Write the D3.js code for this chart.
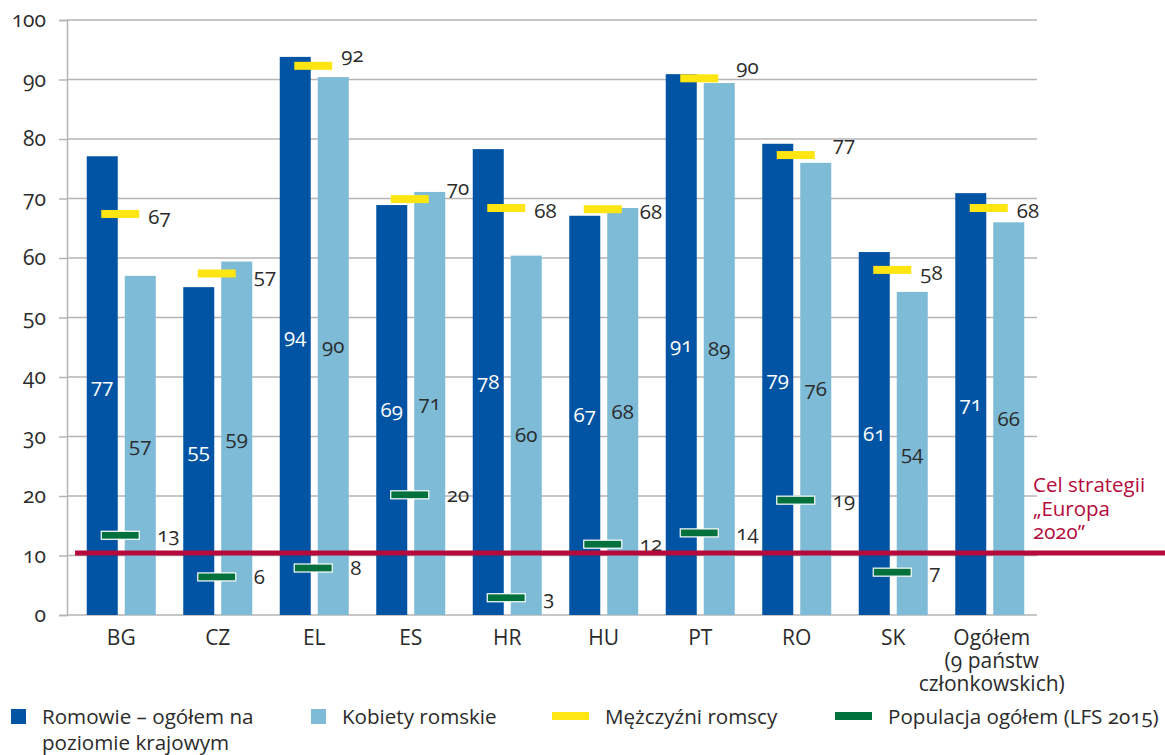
<!DOCTYPE html>
<html><head><meta charset="utf-8">
<script src="https://cdn.jsdelivr.net/npm/d3@7"></script>
<style>
body{margin:0;background:#fff;}
svg text{font-family:"Open Sans","Noto Sans",sans-serif;font-variant-numeric:oldstyle-nums;fill:#2b2b2b;}
</style></head>
<body><svg id="chart" width="1165" height="755"></svg>
<script>
const categories = ["BG","CZ","EL","ES","HR","HU","PT","RO","SK","Ogółem"];
const categoryLines = [["BG"],["CZ"],["EL"],["ES"],["HR"],["HU"],["PT"],["RO"],["SK"],["Ogółem","(9 państw","członkowskich)"]];
const romaAll    = [77.1, 55.1, 93.8, 68.9, 78.3, 67.1, 90.9, 79.2, 61.0, 70.9];
const romaWomen  = [57.0, 59.4, 90.4, 71.1, 60.4, 68.4, 89.4, 76.0, 54.3, 66.0];
const romaMen    = [67.4, 57.4, 92.3, 69.9, 68.4, 68.2, 90.2, 77.3, 58.0, 68.4];
const generalPop = [13.4, 6.4, 7.9, 20.2, 2.9, 11.9, 13.8, 19.3, 7.2];
const targetValue = 10.4;
const targetLabel = ["Cel strategii", "„Europa", "2020”"];
const yTicks = [0,10,20,30,40,50,60,70,80,90,100];
const seriesNames = ["Romowie – ogółem na|poziomie krajowym", "Kobiety romskie", "Mężczyźni romscy", "Populacja ogółem (LFS 2015)"];
const colors = {dark:"#0054a3", light:"#7dbbd7", yellow:"#ffe512", green:"#00703c", red:"#b40a3c", grid:"#b5b5b5"};

const svg = d3.select("#chart");
const y = d3.scaleLinear().domain([0,100]).range([615,20]);
const x = d3.scaleBand().domain(categories).range([73,1038]).paddingInner(0).paddingOuter(0);
const inner = d3.scaleBand().domain(["all","women"]).range([-34.5,34.5]).paddingInner(0.184);
const cx = c => x(c) + x.bandwidth()/2;
const fmt = v => String(Math.round(v));

// grid + axis
const yAxis = d3.axisLeft(y).tickValues(yTicks).tickSize(8).tickPadding(13).tickFormat(d3.format("d"));
const ag = svg.append("g").attr("transform","translate(67,0)").call(yAxis);
ag.select(".domain").attr("stroke",colors.grid).attr("stroke-width",1.5);
ag.selectAll(".tick line").attr("stroke",colors.grid).attr("stroke-width",1.5);
ag.selectAll(".tick text").attr("font-size",21).style("fill","#2b2b2b");
svg.append("g").selectAll("line").data(yTicks).join("line")
  .attr("x1",67).attr("x2",1037).attr("y1",d=>y(d)).attr("y2",d=>y(d))
  .attr("stroke",colors.grid).attr("stroke-width",1.5);

// bars
const g = svg.append("g");
g.selectAll("rect.dark").data(categories).join("rect").attr("class","dark")
  .attr("x",(c)=>cx(c)+inner("all")).attr("width",inner.bandwidth())
  .attr("y",(c,i)=>y(romaAll[i])).attr("height",(c,i)=>y(0)-y(romaAll[i])).attr("fill",colors.dark);
g.selectAll("rect.light").data(categories).join("rect").attr("class","light")
  .attr("x",(c)=>cx(c)+inner("women")).attr("width",inner.bandwidth())
  .attr("y",(c,i)=>y(romaWomen[i])).attr("height",(c,i)=>y(0)-y(romaWomen[i])).attr("fill",colors.light);

// bar labels
g.selectAll("text.dl").data(categories).join("text")
  .attr("x",c=>cx(c)+inner("all")+inner.bandwidth()/2).attr("y",(c,i)=>y(romaAll[i]/2)+7)
  .attr("text-anchor","middle").attr("font-size",20.5).style("fill","#ffffff").text((c,i)=>fmt(romaAll[i]));
g.selectAll("text.ll").data(categories).join("text")
  .attr("x",c=>cx(c)+inner("women")+inner.bandwidth()/2).attr("y",(c,i)=>y(romaWomen[i]/2)+7)
  .attr("text-anchor","middle").attr("font-size",20.5).text((c,i)=>fmt(romaWomen[i]));

// target line
svg.append("line").attr("x1",75).attr("x2",1165).attr("y1",y(targetValue)).attr("y2",y(targetValue))
  .attr("stroke",colors.red).attr("stroke-width",5);
svg.append("g").selectAll("text").data(targetLabel).join("text")
  .attr("x",1033).attr("y",(d,i)=>492+i*23.5).attr("font-size",20.5).style("fill",colors.red).text(d=>d);

// male markers
g.selectAll("rect.men").data(categories).join("rect")
  .attr("x",c=>cx(c)-20).attr("width",38).attr("y",(c,i)=>y(romaMen[i])-4).attr("height",8).attr("fill",colors.yellow);
g.selectAll("text.men").data(categories).join("text")
  .attr("x",(c,i)=>cx(c)+(romaWomen[i]>=romaMen[i]-1.5?36:27))
  .attr("y",(c,i)=>y(romaMen[i])+(romaMen[i]>=69.5?-4:10))
  .attr("font-size",20.5).text((c,i)=>fmt(romaMen[i]));

// general population markers
g.selectAll("rect.pop").data(generalPop).join("rect")
  .attr("x",(v,i)=>cx(categories[i])-20).attr("width",38).attr("y",v=>y(v)-4).attr("height",8)
  .attr("fill",colors.green).attr("stroke","#ffffff").attr("stroke-width",1.2);
g.selectAll("text.pop").data(generalPop).join("text")
  .attr("x",(v,i)=>cx(categories[i])+36).attr("y",v=>y(v)+7)
  .attr("font-size",20.5).text(v=>fmt(v));

// category labels
const cl = svg.append("g").selectAll("text").data(categories).join("text")
  .attr("x",c=>cx(c)+(c==="Ogółem"?2:0)).attr("y",645).attr("text-anchor","middle").attr("font-size",21);
cl.selectAll("tspan").data((c,i)=>categoryLines[i]).join("tspan")
  .attr("x",function(){return this.parentNode.getAttribute("x");}).attr("dy",(d,j)=>j===0?0:23).text(d=>d);

// legend
const lg = svg.append("g");
const legendItems = [
  {name:seriesNames[0], type:"sq", color:colors.dark, x:11},
  {name:seriesNames[1], type:"sq", color:colors.light, x:311},
  {name:seriesNames[2], type:"ln", color:colors.yellow, x:552},
  {name:seriesNames[3], type:"ln", color:colors.green, x:835}
];
legendItems.forEach(it=>{
  if(it.type==="sq") lg.append("rect").attr("x",it.x).attr("y",709).attr("width",15).attr("height",15).attr("fill",it.color);
  else lg.append("rect").attr("x",it.x).attr("y",712).attr("width",37).attr("height",8).attr("fill",it.color);
  const t = lg.append("text").attr("x",it.x+(it.type==="sq"?31:53)).attr("y",724).attr("font-size",20.6);
  it.name.split("|").forEach((s,j)=>t.append("tspan").attr("x",it.x+(it.type==="sq"?31:53)).attr("dy",j?26:0).text(s));
});
</script></body></html>
